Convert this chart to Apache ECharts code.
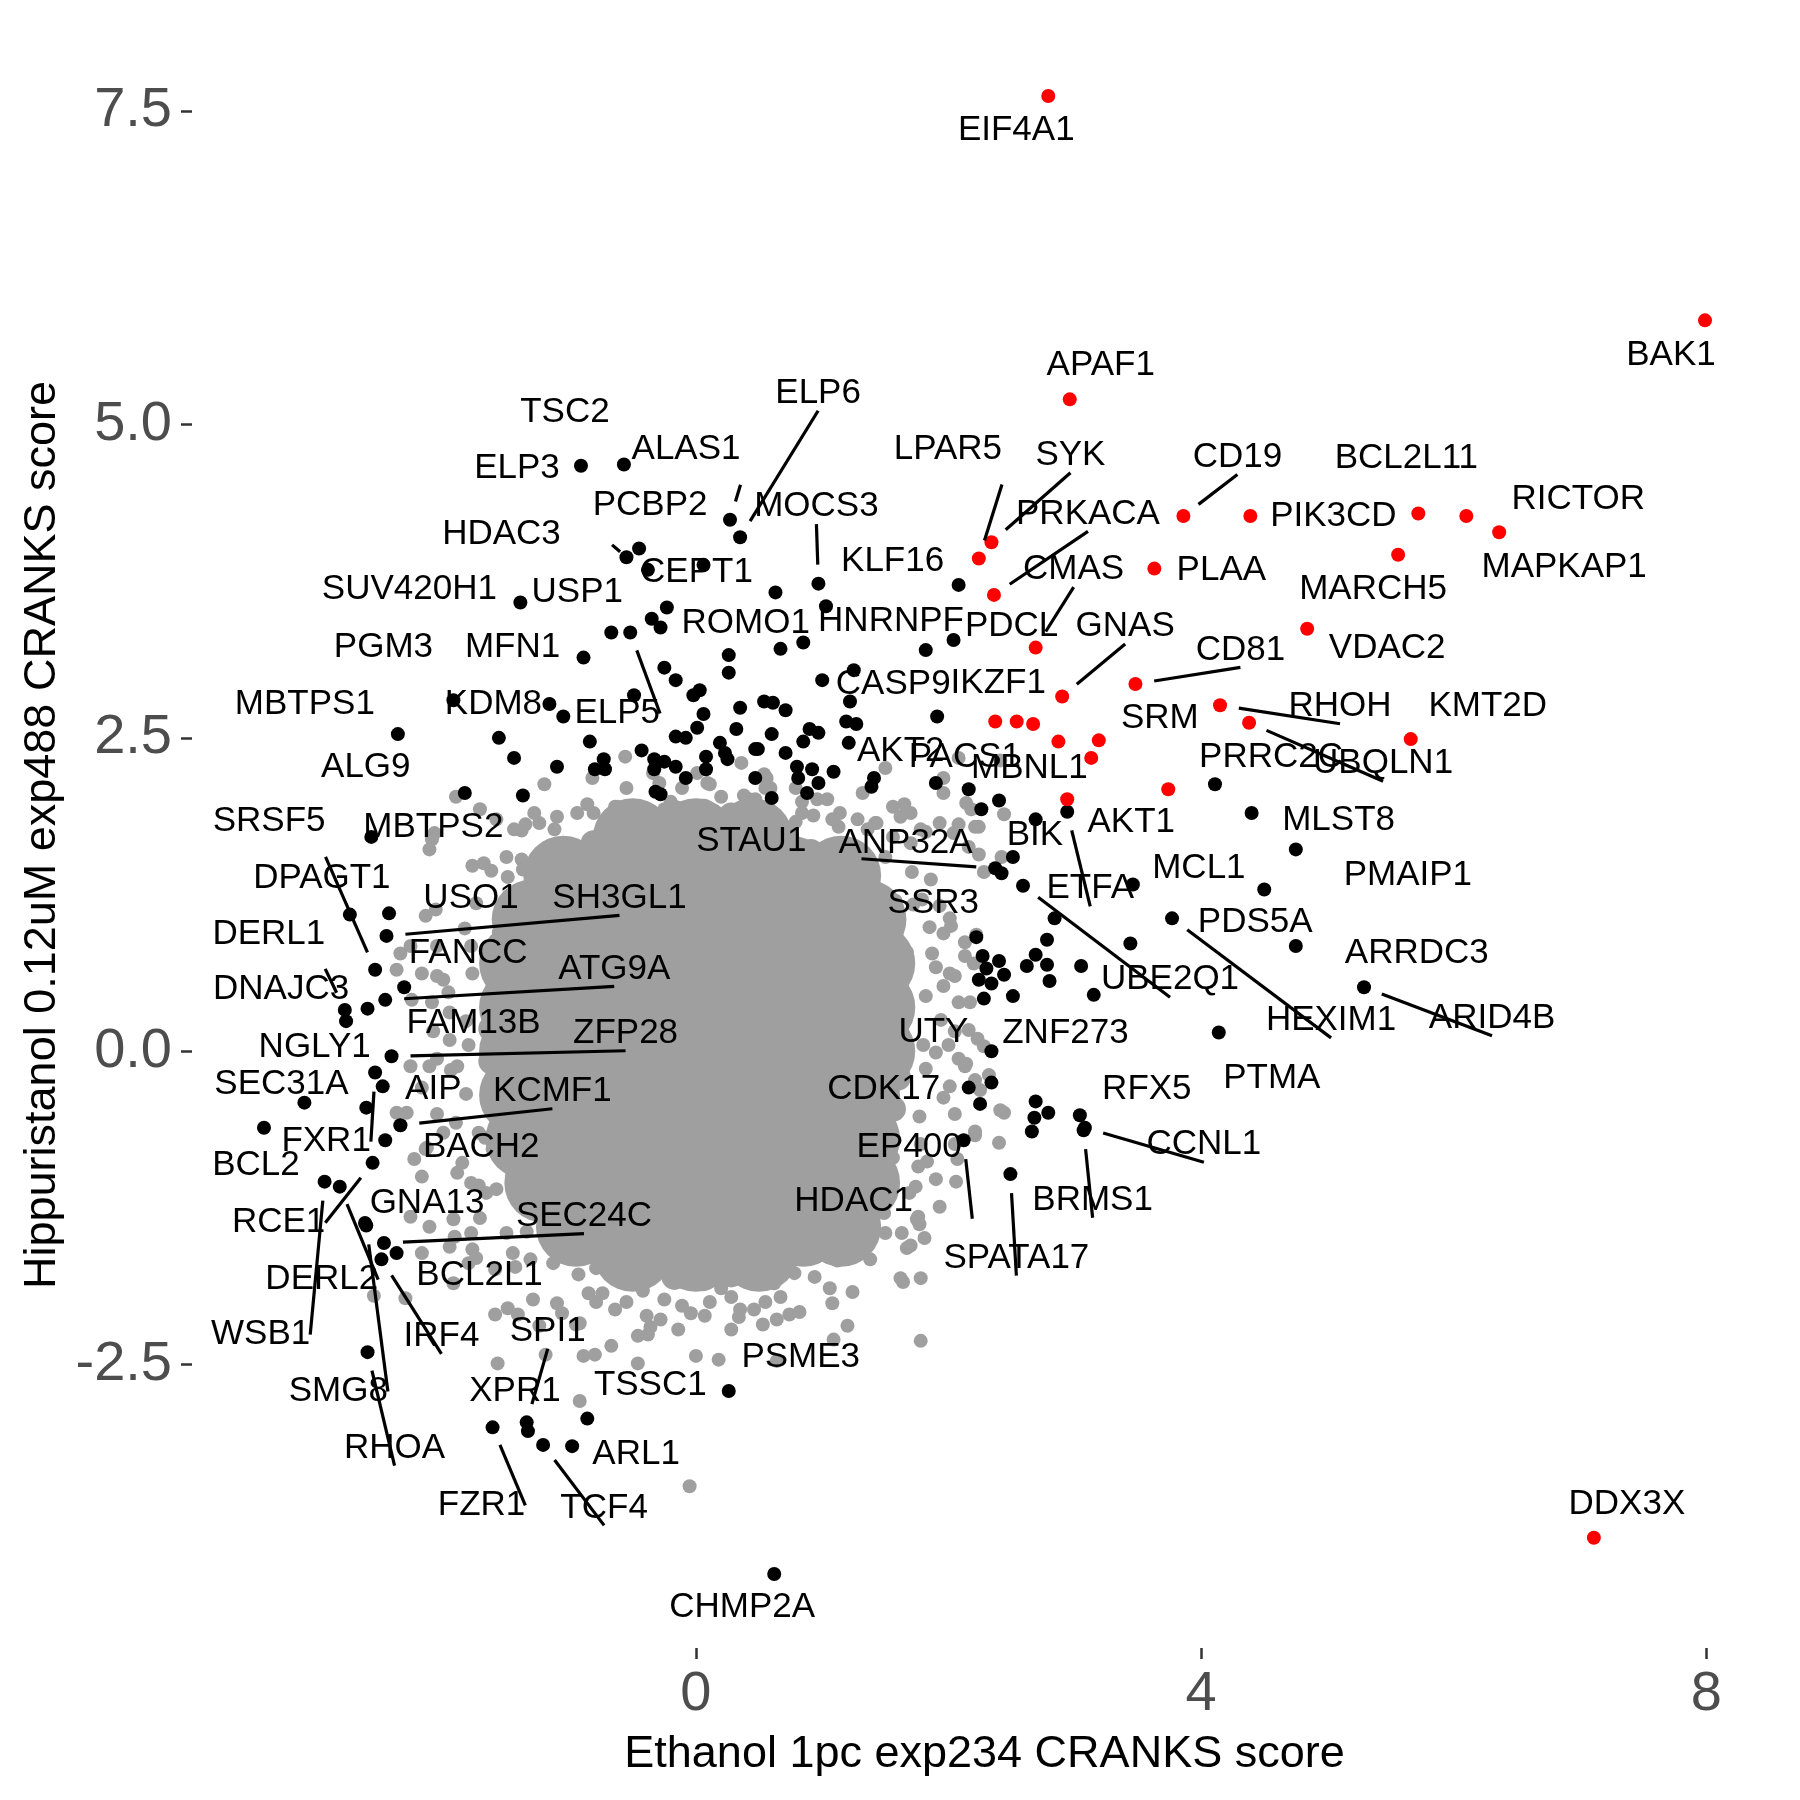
<!DOCTYPE html>
<html>
<head>
<meta charset="utf-8">
<script src="https://cdn.jsdelivr.net/npm/echarts@6.0.0/dist/echarts.min.js"></script>
<style>
  html, body { margin: 0; padding: 0; background: #fff; }
  #main { width: 1800px; height: 1800px; }
</style>
</head>
<body>
<div id="main"></div>
<script>
// axis ticks
const xTicks = [0, 4, 8];
const yTicks = [-2.5, 0, 2.5, 5, 7.5];

// dense middle of the grey cloud (drawn as wide discs)
const greyCore = [
  [-0.5,1.70],[0,1.70],[0.45,1.70],
  [-1.05,1.40],[-0.6,1.40],[-0.15,1.40],[0.3,1.40],[0.75,1.40],[1.15,1.40],
  [-1.3,1.05],[-0.85,1.05],[-0.4,1.05],[0.05,1.05],[0.5,1.05],[0.95,1.05],[1.35,1.05],
  [-1.4,0.7],[-0.95,0.7],[-0.5,0.7],[-0.05,0.7],[0.4,0.7],[0.85,0.7],[1.3,0.7],[1.42,0.7],
  [-1.4,0.35],[-0.95,0.35],[-0.5,0.35],[-0.05,0.35],[0.4,0.35],[0.85,0.35],[1.3,0.35],[1.42,0.35],
  [-1.4,0],[-0.95,0],[-0.5,0],[-0.05,0],[0.4,0],[0.85,0],[1.3,0],[1.42,0],
  [-1.4,-0.35],[-0.95,-0.35],[-0.5,-0.35],[-0.05,-0.35],[0.4,-0.35],[0.85,-0.35],[1.3,-0.35],
  [-1.35,-0.7],[-0.9,-0.7],[-0.45,-0.7],[0,-0.7],[0.45,-0.7],[0.9,-0.7],[1.3,-0.7],
  [-1.2,-1.05],[-0.75,-1.05],[-0.3,-1.05],[0.15,-1.05],[0.6,-1.05],[1.05,-1.05],[1.3,-1.05],
  [-0.95,-1.4],[-0.5,-1.4],[-0.05,-1.4],[0.4,-1.4],[0.85,-1.4],[1.15,-1.4],
  [-0.5,-1.6],[0,-1.6],[0.5,-1.6]
];

// edge of the dense middle (smaller discs)
const greyEdge = [
  [1.62,0.05],[1.60,0.31],[1.56,0.56],[1.48,0.81],[1.37,1.04],[1.24,1.25],[1.08,1.43],[0.91,1.59],
  [0.71,1.72],[0.50,1.82],[0.28,1.88],[0.06,1.91],[-0.17,1.90],[-0.39,1.85],[-0.61,1.77],[-0.81,1.66],
  [-1.00,1.52],[-1.17,1.34],[-1.31,1.14],[-1.43,0.92],[-1.52,0.69],[-1.58,0.44],[-1.62,0.18],[-1.62,-0.08],
  [-1.58,-0.34],[-1.52,-0.59],[-1.43,-0.82],[-1.31,-1.04],[-1.17,-1.24],[-1.00,-1.42],[-0.81,-1.56],[-0.61,-1.67],
  [-0.39,-1.75],[-0.17,-1.80],[0.06,-1.81],[0.28,-1.78],[0.50,-1.72],[0.71,-1.62],[0.91,-1.49],[1.08,-1.33],
  [1.24,-1.15],[1.37,-0.94],[1.48,-0.71],[1.56,-0.46],[1.60,-0.21]
];

// crowded rim of the cloud, too packed to read dot by dot
const greyRim = [
  [1.80,0.05],[1.94,0.25],[1.82,0.44],[1.90,0.67],[1.67,0.79],[1.56,0.95],[1.58,1.20],[1.38,1.29],
  [1.34,1.54],[1.08,1.53],[0.90,1.61],[0.79,1.83],[0.57,1.82],[0.42,2.01],[0.19,1.87],[0.00,1.85],
  [-0.20,1.99],[-0.39,1.87],[-0.62,1.95],[-0.74,1.72],[-0.90,1.61],[-1.15,1.63],[-1.24,1.43],[-1.49,1.39],
  [-1.48,1.13],[-1.56,0.95],[-1.78,0.84],[-1.77,0.62],[-1.96,0.47],[-1.82,0.24],[-1.80,0.05],[-1.94,-0.15],
  [-1.82,-0.34],[-1.90,-0.57],[-1.67,-0.69],[-1.56,-0.85],[-1.58,-1.10],[-1.38,-1.19],[-1.34,-1.44],[-1.08,-1.43],
  [-0.90,-1.51],[-0.79,-1.73],[-0.57,-1.72],[-0.42,-1.91],[-0.19,-1.77],[0.00,-1.75],[0.20,-1.89],[0.39,-1.77],
  [0.62,-1.85],[0.74,-1.62],[0.90,-1.51],[1.15,-1.53],[1.24,-1.33],[1.49,-1.29],[1.48,-1.03],[1.56,-0.85],
  [1.78,-0.74],[1.77,-0.52],[1.96,-0.37],[1.82,-0.14],
  [2.05,0.16],[2.17,0.39],[2.05,0.60],[2.13,0.87],[1.85,0.99],[1.72,1.17],[1.71,1.43],[1.50,1.55],
  [1.43,1.82],[1.13,1.79],[0.93,1.88],[0.79,2.10],[0.55,2.10],[0.36,2.30],[0.11,2.13],[-0.11,2.10],
  [-0.34,2.22],[-0.55,2.10],[-0.82,2.18],[-0.94,1.90],[-1.12,1.77],[-1.38,1.76],[-1.50,1.55],[-1.77,1.48],
  [-1.74,1.18],[-1.83,0.98],[-2.05,0.84],[-2.05,0.60],[-2.25,0.41],[-2.08,0.16],[-2.05,-0.06],[-2.17,-0.29],
  [-2.05,-0.50],[-2.13,-0.77],[-1.85,-0.89],[-1.72,-1.07],[-1.71,-1.33],[-1.50,-1.45],[-1.43,-1.72],[-1.13,-1.69],
  [-0.93,-1.78],[-0.79,-2.00],[-0.55,-2.00],[-0.36,-2.20],[-0.11,-2.03],[0.11,-2.00],[0.34,-2.12],[0.55,-2.00],
  [0.82,-2.08],[0.94,-1.80],[1.12,-1.67],[1.38,-1.66],[1.50,-1.45],[1.77,-1.38],[1.74,-1.08],[1.83,-0.88],
  [2.05,-0.74],[2.05,-0.50],[2.25,-0.31],[2.08,-0.06]
];

// scattered grey genes around the cloud
const greyPoints = [
  [-1.90,2.03],[-1.20,2.13],[-0.56,2.35],[-1.28,1.90],[-0.86,1.97],[-0.81,1.90],[-0.64,1.95],[-0.53,1.90],
  [-0.39,1.90],[-0.25,1.93],[0.01,2.22],[0.09,2.14],[0.20,2.03],[0.40,2.01],[-0.36,1.79],[-1.58,1.85],[-2.07,1.74],
  [1.96,2.18],[1.93,1.82],[2.18,1.93],[2.21,1.79],[1.04,2.01],[1.14,1.90],[1.28,1.85],[1.42,1.82],[1.56,1.95],
  [1.62,1.87],[1.70,1.90],[0.54,2.21],[0.59,2.10],[0.47,2.01],[0.84,1.99],[0.84,1.90],[0.71,1.79],[1.82,1.75],
  [2.42,1.55],[1.86,1.37],[2.01,1.06],[2.13,0.76],[2.01,0.62],[1.96,0.52],[2.16,0.17],[2.00,0.05],[1.90,-0.01],
  [2.13,-0.12],[2.21,-0.23],[2.01,-0.28],[2.44,-0.49],[2.21,-0.64],[2.40,-0.73],[2.07,-0.86],[1.90,-1.02],
  [1.76,-0.92],[1.69,-1.13],[1.76,-1.32],[1.63,-1.45],[1.67,-1.57],[1.79,1.21],[1.93,1.16],[1.96,0.94],[1.87,0.78],
  [1.08,1.85],[1.36,1.77],[1.56,1.71],[1.70,1.66],[2.04,1.74],[2.16,1.63],
  [-2.11,1.61],[-2.09,1.69],[-1.68,1.50],[-1.62,1.44],[-1.38,1.53],[-1.37,1.45],[-1.30,1.37],[-2.14,1.08],
  [-2.06,1.13],[-2.26,0.84],[-2.37,0.65],[-2.34,0.78],[-2.17,0.62],[-2.00,0.57],[-2.09,0.39],[-1.95,0.31],
  [-2.26,-0.12],[-2.11,-0.12],[-1.95,0.09],[-1.89,-0.12],[-2.37,-0.49],[-2.29,-0.49],[-2.34,-0.59],[-2.23,-0.86],
  [-2.14,-0.78],[-2.00,-0.65],[-1.89,-0.97],[-2.17,-1.00],[-2.26,-1.32],[-2.11,-1.40],[-1.92,-1.34],[-2.17,-1.61],
  [-1.95,-1.56],[-1.78,-1.45],[-1.72,-0.65],[-1.61,-0.78],[-1.78,-1.05],[-1.66,-1.13],[-1.24,1.82],[-1.44,1.77],[-1.10,1.87],
  [-2.30,-1.97],[-2.55,-1.95],[-1.57,-2.49],[-1.91,-1.48],[-1.77,-1.58],[-1.80,-1.69],[-1.59,-1.74],[-1.45,-1.61],
  [-1.31,-1.66],[-1.29,-1.98],[-1.49,-2.05],[-1.10,-2.01],[-1.06,-2.09],[-1.24,-2.19],[-0.92,-2.17],[-0.85,-1.93],
  [-0.74,-1.93],[-0.64,-2.06],[-0.46,-2.27],[-0.25,-1.98],[-0.39,-2.11],[-0.28,-2.14],[-0.14,-2.22],[-0.04,-2.09],
  [0.07,-2.11],[0.28,-1.96],[0.35,-2.06],[0.46,-2.06],[0.64,-2.14],[0.67,-1.96],[0.78,-1.77],[1.06,-1.89],[1.24,-1.92],
  [1.20,-2.19],[1.09,-2.30],[0.28,-2.22],[0.18,-2.46],[0.00,-2.43],[-0.46,-2.49],[-0.67,-2.35],[-0.89,-2.43],
  [-0.92,-2.79],[-0.05,-3.47],[0.64,-2.47],[1.78,-2.31],[1.75,-1.34],[1.64,-1.84],
  [1.78,1.77],[2.08,1.81],[2.44,1.89],[2.02,1.00],[2.08,0.39],[2.23,0.10],[2.14,-0.10],[1.93,-1.24],[1.81,-1.49],
  [1.78,-1.81],[1.62,-1.81],[1.08,-2.01],[0.74,-2.10],[0.53,-2.18],[-0.38,-2.26],[-0.80,-2.42],[-0.95,-2.18],
  [-1.19,-2.42],[-1.41,-2.10],[-1.59,-2.10],[-1.92,-1.85],[-1.74,-1.65],[-1.71,1.93],[-1.35,1.81],[-0.29,2.14],
  [0.56,2.18],[0.38,2.04],[0.96,2.01],[1.50,2.26],[1.32,2.06],[1.65,1.97],[1.96,2.06],[2.08,2.34],[2.41,2.32],
  [2.14,1.98],[2.24,1.79],[2.24,1.57],[2.28,1.43],[1.50,1.26],[2.22,0.93],[2.20,0.70],[2.28,0.04],[2.32,-0.19],
  [2.41,-0.47],[2.21,-0.67],[2.06,-1.04],[1.70,-1.55]
];

// significant genes without a label
const blackOther = [
  [-0.38,3.84],[-0.23,3.54],[-0.35,3.45],[-0.28,3.38],[0.26,3.02],[-0.25,3.06],[-0.16,2.96],[0.03,2.88],
  [-0.02,2.84],[-0.49,2.84],[0.06,2.69],[0.35,2.74],[-1.05,2.67],[-1.56,2.50],[-1.44,2.34],[-1.10,2.27],
  [-0.84,2.47],[-0.73,2.33],[-0.80,2.25],[-0.72,2.25],[-0.43,2.40],[-0.33,2.33],[-0.25,2.31],[-0.16,2.27],
  [-0.33,2.25],[-0.08,2.18],[-0.32,2.07],[-0.28,2.05],[-0.16,2.51],[-0.08,2.50],[0.01,2.58],[0.08,2.35],
  [0.19,2.46],[0.23,2.38],[0.32,2.57],[0.25,2.33],[0.08,2.25],[0.47,2.41],[0.47,2.18],[-1.37,2.04],
  [0.63,3.66],[0.67,3.21],[0.85,3.26],[1.82,3.20],[1.25,3.04],[1.22,2.79],[0.54,2.79],[0.61,2.78],
  [0.71,2.72],[1.19,2.63],[1.27,2.61],[1.91,2.67],[0.60,2.53],[0.49,2.41],[0.71,2.38],[0.90,2.57],
  [0.97,2.54],[0.85,2.47],[0.80,2.27],[0.92,2.25],[0.81,2.18],[0.97,2.14],[0.88,2.06],[1.09,2.23],
  [0.60,2.02],[1.41,2.18],[1.39,2.11],[2.16,2.09],[2.26,1.93],[2.40,2.00],[2.69,1.85],
  [2.84,1.06],[3.44,0.86],[2.27,0.76],[2.40,0.72],[2.30,0.66],[2.44,0.61],[2.24,0.57],[2.34,0.54],
  [2.28,0.42],[2.51,0.44],[2.69,0.77],[2.78,0.69],[2.62,0.68],[2.80,0.56],[2.78,0.89],[3.05,0.68],
  [3.15,0.45],[2.69,-0.40],[2.79,-0.49],[2.68,-0.53],[2.66,-0.64]
];
const redOther = [[2.54,2.63],[2.67,2.61],[3.13,2.34],[3.74,2.09]];

// labelled genes: name, ethanol score, hippuristanol score
const blackGenes = [
  ['ELP3',-0.91,4.67],['TSC2',-0.57,4.68],['ALAS1',0.27,4.24],['ELP6',0.35,4.10],['PCBP2',-0.45,4.01],
  ['HDAC3',-0.55,3.94],['CEPT1',0.06,3.88],['SUV420H1',-1.39,3.58],['USP1',-0.67,3.34],['ROMO1',0.26,3.16],
  ['MFN1',-0.89,3.14],['ELP5',-0.52,3.34],['PGM3',-1.92,2.80],['KDM8',-1.16,2.77],['MBTPS1',-2.36,2.53],
  ['ALG9',-1.83,2.06],['MBTPS2',-2.57,1.71],['SRSF5',-2.54,0.65],['DPAGT1',-2.74,1.09],['USO1',-2.43,1.10],
  ['SH3GL1',-2.45,0.92],['FANCC',-2.31,0.51],['ATG9A',-2.46,0.41],['DERL1',-2.78,0.33],['DNAJC3',-2.77,0.24],
  ['FAM13B',-2.60,0.34],['ZFP28',-2.41,-0.04],['NGLY1',-2.48,-0.28],['FXR1',-2.54,-0.17],['SEC31A',-3.10,-0.41],
  ['AIP',-2.61,-0.45],['KCMF1',-2.34,-0.59],['BCL2',-3.42,-0.61],['BACH2',-2.46,-0.71],['RCE1',-2.56,-0.89],
  ['WSB1',-2.94,-1.04],['DERL2',-2.82,-1.08],['GNA13',-2.62,-1.37],['SMG8',-2.61,-1.39],['SEC24C',-2.47,-1.53],
  ['BCL2L1',-2.37,-1.61],['IRF4',-2.49,-1.66],['RHOA',-2.60,-2.40],['FZR1',-1.61,-3.00],['SPI1',-1.34,-2.96],
  ['XPR1',-1.33,-3.03],['TCF4',-1.21,-3.14],['ARL1',-0.98,-3.15],['TSSC1',-0.86,-2.93],['PSME3',0.26,-2.71],
  ['CHMP2A',0.62,-4.17],['STAU1',2.37,1.46],['ANP32A',2.42,1.42],['SSR3',2.22,0.91],['UBE2Q1',2.59,1.32],
  ['BIK',2.51,1.55],['ETFA',2.94,1.91],['MCL1',3.46,1.33],['PDS5A',4.50,1.29],['HEXIM1',3.77,1.06],
  ['PTMA',4.14,0.15],['ZNF273',2.34,0.00],['UTY',2.34,-0.25],['CDK17',2.16,-0.29],['RFX5',3.04,-0.51],
  ['CCNL1',3.08,-0.61],['BRMS1',3.07,-0.63],['EP400',2.25,-0.42],['HDAC1',2.12,-0.71],['SPATA17',2.49,-0.98],
  ['PRRC2C',4.11,2.13],['MLST8',4.40,1.90],['PMAIP1',4.75,1.61],['ARRDC3',4.75,0.84],['ARID4B',5.29,0.51],
  ['HNRNPF',1.03,3.55],['MOCS3',0.97,3.73],['KLF16',2.08,3.72],['CASP9',1.00,2.96],['PDCL',2.04,3.28],
  ['AKT2',1.21,2.46],['PACS1',1.90,2.14]
];
const redGenes = [
  ['EIF4A1',2.79,7.62],['BAK1',7.99,5.83],['APAF1',2.96,5.20],['CD19',3.86,4.27],['PIK3CD',4.39,4.27],
  ['BCL2L11',5.72,4.29],['RICTOR',6.10,4.27],['MAPKAP1',6.36,4.14],['MARCH5',5.56,3.96],['PLAA',3.63,3.85],
  ['VDAC2',4.84,3.37],['KMT2D',5.66,2.49],['RHOH',4.15,2.76],['UBQLN1',4.38,2.62],['CMAS',2.69,3.22],
  ['GNAS',2.90,2.83],['CD81',3.48,2.93],['LPAR5',2.24,3.93],['SYK',2.34,4.06],['PRKACA',2.36,3.64],
  ['DDX3X',7.11,-3.88],['IKZF1',2.37,2.63],['MBNL1',2.87,2.47],['SRM',3.19,2.48],['AKT1',2.94,2.01]
];

// where each label sits relative to its point (px), repel-style
const labelShift = {
  ELP3:[-64,3], TSC2:[-59,-52], ALAS1:[-44,-70], ELP6:[78,-144], PCBP2:[11,-43], HDAC3:[-125,-23],
  CEPT1:[-7,8], SUV420H1:[-111,-13], USP1:[-34,-40], ROMO1:[17,-32], MFN1:[-71,-10], ELP5:[-13,81],
  PGM3:[-70,-53], KDM8:[-56,0], MBTPS1:[-93,-30], ALG9:[-99,-26], MBTPS2:[62,-10], SRSF5:[-106,-148],
  DPAGT1:[-28,-36], USO1:[82,-15], SH3GL1:[233,-38], FANCC:[64,-34], ATG9A:[229,-31], DERL1:[-76,-76],
  DNAJC3:[-65,-32], FAM13B:[106,15], ZFP28:[234,-23], NGLY1:[-68,-39], FXR1:[-49,69], SEC31A:[-23,-18],
  AIP:[67,-18], KCMF1:[152,-34], BCL2:[-8,38], BACH2:[96,7], RCE1:[-94,60], WSB1:[-64,153],
  DERL2:[-18,93], GNA13:[62,-20], SMG8:[-28,166], SEC24C:[200,-27], BCL2L1:[83,22], IRF4:[60,77],
  RHOA:[27,96], FZR1:[-11,78], SPI1:[21,-91], XPR1:[-13,-40], TCF4:[61,63], ARL1:[64,8], TSSC1:[63,-33],
  PSME3:[72,-34], CHMP2A:[-32,33], STAU1:[-244,-27], ANP32A:[-96,-30], SSR3:[-43,-34], UBE2Q1:[147,94],
  BIK:[22,-22], ETFA:[23,77], MCL1:[66,-16], PDS5A:[-9,33], HEXIM1:[159,102], PTMA:[53,46],
  ZNF273:[74,-18], UTY:[-58,-50], CDK17:[-85,2], RFX5:[67,-26], CCNL1:[119,17], BRMS1:[9,70],
  EP400:[-71,43], HDAC1:[-110,61], SPATA17:[6,84], PRRC2C:[56,-27], MLST8:[87,7], PMAIP1:[112,26],
  ARRDC3:[121,7], ARID4B:[128,31], HNRNPF:[65,15], MOCS3:[-2,-77], KLF16:[-66,-24], CASP9:[71,4],
  PDCL:[58,-14], AKT2:[52,8], PACS1:[29,-26],
  EIF4A1:[-32,34], BAK1:[-34,35], APAF1:[31,-34], CD19:[54,-59], PIK3CD:[83,0], BCL2L11:[-12,-55],
  RICTOR:[112,-17], MAPKAP1:[65,35], MARCH5:[-25,35], PLAA:[67,2], VDAC2:[80,20], KMT2D:[77,-33],
  RHOH:[120,1], UBQLN1:[134,41], CMAS:[38,-78], GNAS:[63,-70], CD81:[105,-34], LPAR5:[-31,-109],
  SYK:[79,-87], PRKACA:[94,-81], DDX3X:[33,-33], IKZF1:[3,-38], MBNL1:[-29,27], SRM:[61,-22], AKT1:[64,23]
};
const withSegment = new Set([
  'ALAS1','ELP6','HDAC3','ELP5','SRSF5','SH3GL1','ATG9A','DERL1','ZFP28','FXR1','KCMF1','RCE1','WSB1',
  'DERL2','SMG8','SEC24C','IRF4','RHOA','FZR1','SPI1','TCF4','STAU1','UBE2Q1','ETFA','HEXIM1','CCNL1',
  'BRMS1','HDAC1','SPATA17','ARID4B','MOCS3','CD19','RHOH','UBQLN1','CMAS','GNAS','CD81','LPAR5','SYK','PRKACA'
]);

const FONT = 'Liberation Sans, Arial, Helvetica, sans-serif';
const GREY = '#9f9f9f';
const DOT = 14;

const allGenes = blackGenes.concat(redGenes);
const labelData = allGenes.map(g => ({
  name: g[0],
  value: [g[1], g[2]],
  label: { offset: labelShift[g[0]] || [0, 0] },
  labelLine: { show: withSegment.has(g[0]) }
}));

const greySeries = (name, data, size) => ({
  type: 'scatter', name, data, symbolSize: size, silent: true,
  itemStyle: { color: GREY, opacity: 1 }
});

const option = {
  animation: false,
  backgroundColor: '#ffffff',
  grid: { left: 192, right: 23, top: 22, bottom: 152, outerBoundsMode: 'none' },
  xAxis: {
    type: 'value', min: -3.99, max: 8.56,
    name: 'Ethanol 1pc exp234 CRANKS score',
    nameLocation: 'middle', nameGap: 84,
    nameTextStyle: { fontFamily: FONT, fontSize: 45, color: '#000' },
    axisLine: { show: false, onZero: false },
    splitLine: { show: false },
    axisTick: { show: true, customValues: xTicks, length: 11, lineStyle: { color: '#333', width: 2.5 } },
    axisLabel: { customValues: xTicks, fontFamily: FONT, fontSize: 56, color: '#4d4d4d', margin: 19 }
  },
  yAxis: {
    type: 'value', min: -4.76, max: 8.21,
    name: 'Hippuristanol 0.12uM exp488 CRANKS score',
    nameLocation: 'middle', nameGap: 118,
    nameTextStyle: { fontFamily: FONT, fontSize: 45, color: '#000' },
    axisLine: { show: false, onZero: false },
    splitLine: { show: false },
    axisTick: { show: true, customValues: yTicks, length: 11, lineStyle: { color: '#333', width: 2.5 } },
    axisLabel: { customValues: yTicks, fontFamily: FONT, fontSize: 56, color: '#4d4d4d', margin: 20,
      formatter: v => v.toFixed(1) }
  },
  series: [
    greySeries('core', greyCore, 80),
    greySeries('edge', greyEdge, 26),
    greySeries('rim', greyRim, DOT),
    greySeries('grey', greyPoints, DOT),
    { type: 'scatter', name: 'black', silent: true, symbolSize: DOT, itemStyle: { color: '#000', opacity: 1 },
      data: blackOther.concat(blackGenes.map(g => [g[1], g[2]])) },
    { type: 'scatter', name: 'red', silent: true, symbolSize: DOT, itemStyle: { color: '#ff0000', opacity: 1 },
      data: redOther.concat(redGenes.map(g => [g[1], g[2]])) },
    { type: 'scatter', name: 'labels', silent: true, z: 10, symbolSize: 38,
      itemStyle: { color: 'rgba(0,0,0,0)', opacity: 1 },
      label: { show: true, position: 'inside', formatter: '{b}', fontFamily: FONT, fontSize: 35,
        color: '#000', opacity: 1 },
      labelLine: { show: false, lineStyle: { color: '#000', width: 3.2, opacity: 1 } },
      data: labelData }
  ]
};

const chart = echarts.init(document.getElementById('main'));
chart.setOption(option);
</script>
</body>
</html>
